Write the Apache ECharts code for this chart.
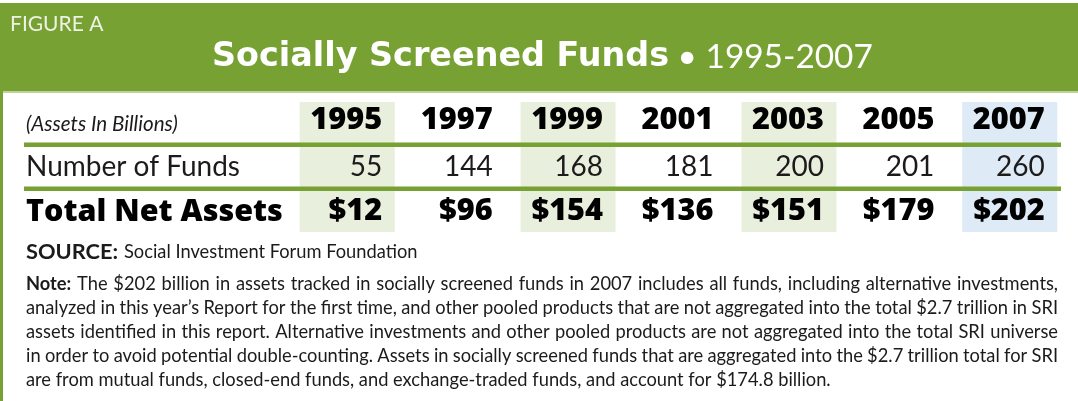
<!DOCTYPE html>
<html>
<head>
<meta charset="utf-8">
<script src="https://cdn.jsdelivr.net/npm/echarts@6/dist/echarts.min.js"></script>
<style>
  html, body { margin: 0; padding: 0; background: #ffffff; }
  #chart { width: 1078px; height: 401px; }
</style>
</head>
<body>
<div id="chart"></div>
<script>
// ---- data ----
const figureLabel = 'FIGURE A';
const titleMain = 'Socially Screened Funds';
const titleSub = ' \u2022 1995-2007';
const years = ['1995', '1997', '1999', '2001', '2003', '2005', '2007'];
const rowNames = ['(Assets In Billions)', 'Number of Funds', 'Total Net Assets'];
const numberOfFunds = [55, 144, 168, 181, 200, 201, 260];
const totalNetAssets = [12, 96, 154, 136, 151, 179, 202];
const sourceLabel = 'SOURCE:';
const sourceText = 'Social Investment Forum Foundation';
const noteLabel = 'Note:';
const noteLines = [
  'The $202 billion in assets tracked in socially screened funds in 2007 includes all funds, including alternative investments,',
  'analyzed in this year\u2019s  Report for the first time, and other pooled products that are not aggregated into the total $2.7 trillion in SRI',
  'assets identified in this report. Alternative investments and other pooled products are not aggregated into the total SRI universe',
  'in order to avoid potential double-counting. Assets in socially screened funds that are aggregated into the $2.7 trillion total for SRI',
  'are from mutual funds, closed-end funds, and exchange-traded funds, and account for $174.8 billion.'
];

// ---- styling ----
const GREEN = '#77a132';
const SHADE_GREEN = '#e8efdc';
const SHADE_BLUE = '#deebf7';
const INK = '#1c1a1a';
const FONT = 'Lato';
const BOLD_FONT = '"Open Sans"';
const TITLE_FONT = '"DejaVu Sans"';

const measureCtx = document.createElement('canvas').getContext('2d');
function measure(text, size, weight, family, style) {
  measureCtx.font = (style || 'normal') + ' ' + (weight || 'normal') + ' ' + size + 'px ' + (family || FONT);
  return measureCtx.measureText(text).width;
}
// font size that makes a text span a given width (layout fitting)
function fitSize(text, weight, family, target, style) {
  const w = measure(text, 100, weight, family, style);
  return Math.round(100 * target / w * 10) / 10;
}

const titleSize = fitSize(titleMain, 'bold', TITLE_FONT, 457);
const subSize = fitSize(titleSub, 'normal', FONT, 204);
const italicSize = fitSize(rowNames[0], 'normal', FONT, 152, 'italic');
const row1Size = fitSize(rowNames[1], 'normal', FONT, 214);
const row2Size = fitSize(rowNames[2], 800, BOLD_FONT, 257);
const yearSize = fitSize(years[2], 800, BOLD_FONT, 72);
const srcBoldSize = fitSize(sourceLabel, 'bold', FONT, 92);
const srcSize = fitSize(sourceText, 'normal', FONT, 294);
const NOTE_SIZE = fitSize(noteLines[4], 'normal', FONT, 804);

// cell items: [colIndex, rowIndex, text]
const cellItems = [];
years.forEach((y, i) => {
  cellItems.push([i, 0, y]);
  cellItems.push([i, 1, String(numberOfFunds[i])]);
  cellItems.push([i, 2, '$' + totalNetAssets[i]]);
});
const shadeItems = years.map((y, i) => [i, 1]);

const rowFonts = [
  { font: '800 ' + yearSize + 'px ' + BOLD_FONT, fill: '#000' },
  { font: 'normal ' + row1Size + 'px ' + FONT, fill: INK },
  { font: '800 ' + yearSize + 'px ' + BOLD_FONT, fill: '#000' }
];

// ---- justified note text via measured word widths ----
const NOTE_X0 = 26, NOTE_X1 = 1058;
const noteY = [284, 308, 332, 356, 380];
const noteGraphics = [];
noteLines.forEach((line, li) => {
  const words = line.split(/\s+/).map(w => ({ text: w, weight: 'normal' }));
  if (li === 0) words.unshift({ text: noteLabel, weight: 'bold' });
  const widths = words.map(w => measure(w.text, NOTE_SIZE, w.weight, FONT));
  const total = widths.reduce((a, b) => a + b, 0);
  const justify = li < noteLines.length - 1;
  const gap = justify ? (NOTE_X1 - NOTE_X0 - total) / (words.length - 1) : measure(' ', NOTE_SIZE, 'normal', FONT);
  let x = NOTE_X0;
  words.forEach((w, wi) => {
    noteGraphics.push({
      type: 'text', x: x, y: noteY[li], z: 10,
      style: { text: w.text, fill: INK, font: w.weight + ' ' + NOTE_SIZE + 'px ' + FONT, verticalAlign: 'middle' }
    });
    x += widths[wi] + gap;
  });
});

const chart = echarts.init(document.getElementById('chart'), null, { renderer: 'canvas' });
chart.setOption({
  animation: false,
  backgroundColor: '#ffffff',
  grid: { left: 292, right: 13, top: 98, bottom: 166 },
  xAxis: {
    type: 'category', data: years, boundaryGap: true,
    axisLine: { show: false }, axisTick: { show: false }, axisLabel: { show: false }, splitLine: { show: false }
  },
  yAxis: {
    type: 'category', data: rowNames, inverse: true, boundaryGap: true,
    axisLine: { show: false }, axisTick: { show: false }, splitLine: { show: false },
    axisLabel: {
      show: true, margin: 266, align: 'left', verticalAlign: 'middle',
      formatter: (v, idx) => '{r' + idx + '|' + v + '}',
      rich: {
        r0: { fontFamily: FONT, fontStyle: 'italic', fontSize: italicSize, color: INK, padding: [8, 0, 0, 0] },
        r1: { fontFamily: FONT, fontSize: row1Size, color: INK },
        r2: { fontFamily: 'Open Sans', fontWeight: 800, fontSize: row2Size, color: '#000' }
      }
    }
  },
  graphic: [
    { type: 'rect', shape: { x: 0, y: 3, width: 1078, height: 88 }, style: { fill: GREEN }, z: 1 },
    { type: 'rect', shape: { x: 0, y: 91, width: 1078, height: 2 }, style: { fill: '#bcd39a' }, z: 1 },
    { type: 'rect', shape: { x: 0, y: 3, width: 3, height: 398 }, style: { fill: GREEN }, z: 1 },
    { type: 'text', x: 10, y: 24, z: 10,
      style: { text: figureLabel, fill: '#eef2e6', font: 'normal 21px ' + FONT, verticalAlign: 'middle' } },
    { type: 'text', x: 212, y: 57, z: 10,
      style: {
        text: '{b|' + titleMain + '}{r|' + titleSub + '}', verticalAlign: 'middle', fill: '#ffffff',
        rich: {
          b: { fontFamily: 'DejaVu Sans', fontWeight: 'bold', fontSize: titleSize, fill: '#ffffff', color: '#ffffff' },
          r: { fontFamily: FONT, fontWeight: 'normal', fontSize: subSize, fill: '#ffffff', color: '#ffffff' }
        }
      } },
    { type: 'rect', shape: { x: 24, y: 142.5, width: 1037, height: 4.5 }, style: { fill: GREEN }, z: 10 },
    { type: 'rect', shape: { x: 24, y: 186.5, width: 1037, height: 4.5 }, style: { fill: GREEN }, z: 10 },
    { type: 'text', x: 26, y: 252, z: 10,
      style: { text: sourceLabel, fill: INK, font: 'bold ' + srcBoldSize + 'px ' + FONT, verticalAlign: 'middle' } },
    { type: 'text', x: 124, y: 252, z: 10,
      style: { text: sourceText, fill: INK, font: 'normal ' + srcSize + 'px ' + FONT, verticalAlign: 'middle' } }
  ].concat(noteGraphics),
  series: [
    {
      type: 'custom', name: 'shade', z: 1, silent: true,
      data: shadeItems,
      encode: { x: 0, y: 1 },
      renderItem: (params, api) => {
        const i = api.value(0);
        if (i % 2 === 1) return null;
        const c = api.coord([i, 1]);
        const band = api.size([1, 1]);
        const w = 95;
        const top = c[1] - band[1] * 1.5 + 4;
        const bottom = c[1] + band[1] * 1.5 - 3;
        return {
          type: 'rect',
          shape: { x: c[0] - w / 2, y: top, width: w, height: bottom - top },
          style: { fill: i === years.length - 1 ? SHADE_BLUE : SHADE_GREEN }
        };
      }
    },
    {
      type: 'custom', name: 'cells', z: 5, silent: true,
      data: cellItems,
      encode: { x: 0, y: 1 },
      renderItem: (params, api) => {
        const i = api.value(0), r = api.value(1);
        const item = cellItems[params.dataIndex];
        const c = api.coord([i, r]);
        const f = rowFonts[r];
        return {
          type: 'text', x: c[0] + 35, y: c[1] + (r === 1 ? 0 : -1),
          style: { text: item[2], align: 'right', verticalAlign: 'middle', font: f.font, fill: f.fill }
        };
      }
    }
  ]
});
</script>
</body>
</html>
